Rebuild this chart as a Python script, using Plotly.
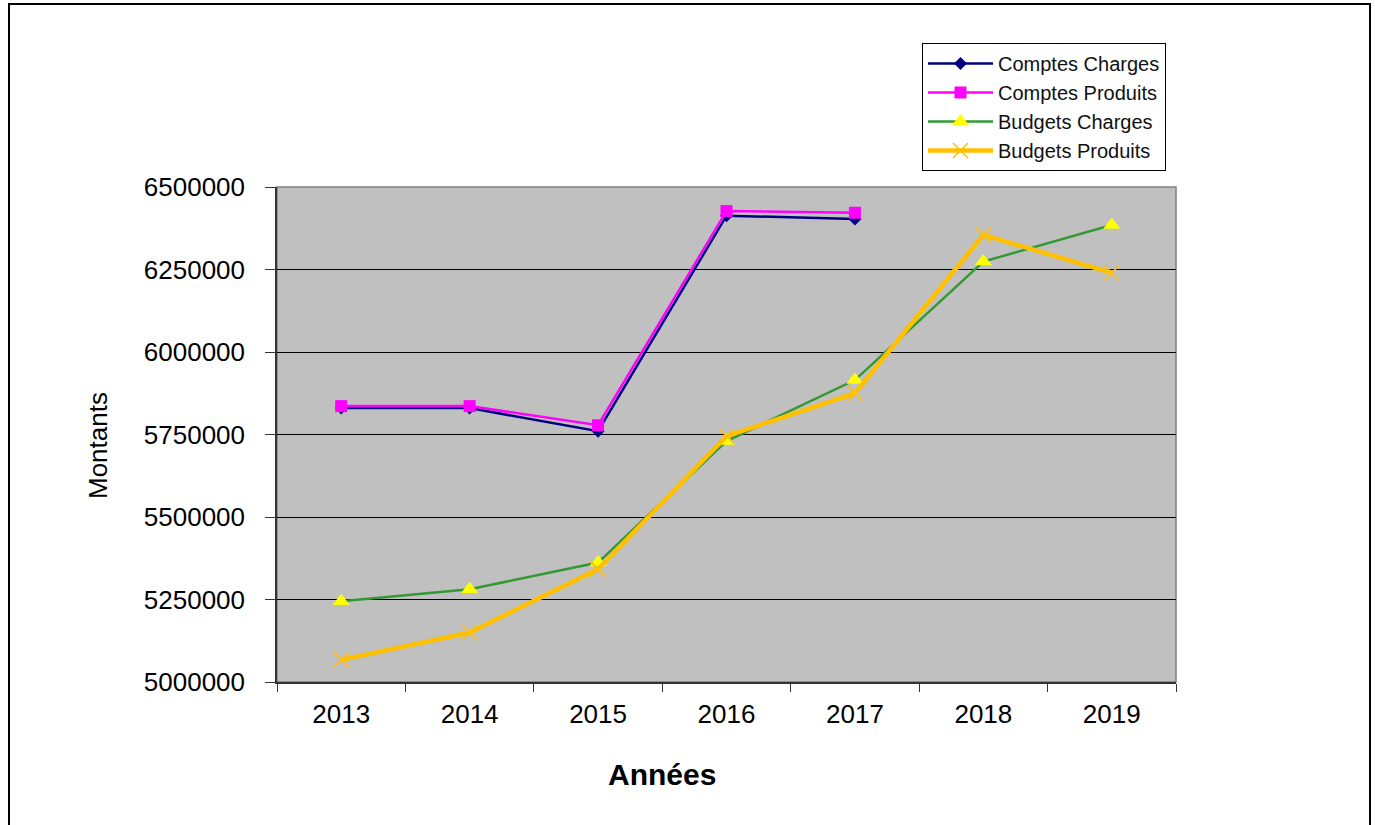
import plotly.graph_objects as go

annees = ["2013", "2014", "2015", "2016", "2017", "2018", "2019"]
comptes_charges = [5830000, 5830000, 5760000, 6413000, 6403000, None, None]
comptes_produits = [5836000, 5836000, 5778000, 6427000, 6422000, None, None]
budgets_charges = [5245000, 5281000, 5362000, 5730000, 5915000, 6274000, 6385000]
budgets_produits = [5067000, 5150000, 5342000, 5745000, 5875000, 6355000, 6240000]
y_ticks = [5000000, 5250000, 5500000, 5750000, 6000000, 6250000, 6500000]

W, H = 1375, 825
# plot area in screen coordinates
L, R, T, B = 277, 1176, 187, 682

def px(x):
    return (x - L) / (R - L)

def py(y):
    return (B - y) / (B - T)

fig = go.Figure()
fig.add_trace(go.Scatter(x=annees, y=comptes_charges, name="Comptes Charges", mode="lines+markers",
                         line=dict(color="#000080", width=2.5),
                         marker=dict(symbol="diamond", size=10, color="#000080")))
fig.add_trace(go.Scatter(x=annees, y=comptes_produits, name="Comptes Produits", mode="lines+markers",
                         line=dict(color="#FF00FF", width=2.5),
                         marker=dict(symbol="square", size=12, color="#FF00FF")))
fig.add_trace(go.Scatter(x=annees, y=budgets_charges, name="Budgets Charges", mode="lines+markers",
                         line=dict(color="#339933", width=2.5),
                         marker=dict(symbol="triangle-up", size=15, color="#FFFF00")))
fig.add_trace(go.Scatter(x=annees, y=budgets_produits, name="Budgets Produits", mode="lines+markers",
                         line=dict(color="#FFC000", width=4.5),
                         marker=dict(symbol="x-thin", size=15, color="#FFC000",
                                     line=dict(color="#FFC000", width=1.5))))

fig.update_layout(
    width=W, height=H,
    margin=dict(l=L, r=W - R, t=T, b=H - B),
    paper_bgcolor="white",
    plot_bgcolor="#C0C0C0",
    font=dict(family="Liberation Sans, Arial, sans-serif", color="#000000"),
    showlegend=True,
    legend=dict(x=px(922), y=py(43), xanchor="left", yanchor="top",
                bgcolor="white", bordercolor="#000000", borderwidth=1,
                font=dict(size=20, color="#111111"), itemwidth=65,
                entrywidth=255, entrywidthmode="pixels",
                tracegroupgap=0),
    xaxis=dict(type="category", range=[-0.5, len(annees) - 0.5],
               showgrid=False, showline=True, linecolor="#333333", linewidth=1.5,
               ticks="outside", tickson="boundaries", ticklen=8, tickcolor="#333333",
               ticklabelstandoff=8,
               tickfont=dict(size=26), zeroline=False, fixedrange=True),
    yaxis=dict(range=[5000000, 6500000], tickvals=y_ticks, ticktext=[str(v) for v in y_ticks],
               showgrid=True, gridcolor="#000000", gridwidth=1.2,
               showline=True, linecolor="#333333", linewidth=1.5,
               ticks="outside", ticklen=10, tickcolor="#333333", ticklabelstandoff=15,
               tickfont=dict(size=26), zeroline=False, fixedrange=True),
    shapes=[
        dict(type="rect", xref="paper", yref="paper", x0=0, x1=1, y0=0, y1=1,
             line=dict(color="#808080", width=1.5), layer="below"),
        dict(type="rect", xref="paper", yref="paper", x0=px(9), x1=px(1370), y0=py(840), y1=py(4),
             line=dict(color="#000000", width=2)),
    ],
    annotations=[
        dict(text="Montants", xref="paper", yref="paper", x=px(98), y=py(446), showarrow=False,
             textangle=-90, font=dict(size=26), xanchor="center", yanchor="middle"),
        dict(text="<b>Années</b>", xref="paper", yref="paper", x=px(662), y=py(774), showarrow=False,
             font=dict(size=30), xanchor="center", yanchor="middle"),
    ],
)

fig.write_html("out.html", config={"displayModeBar": False},
               post_script="document.body.style.margin='0';document.body.style.overflow='hidden';")
